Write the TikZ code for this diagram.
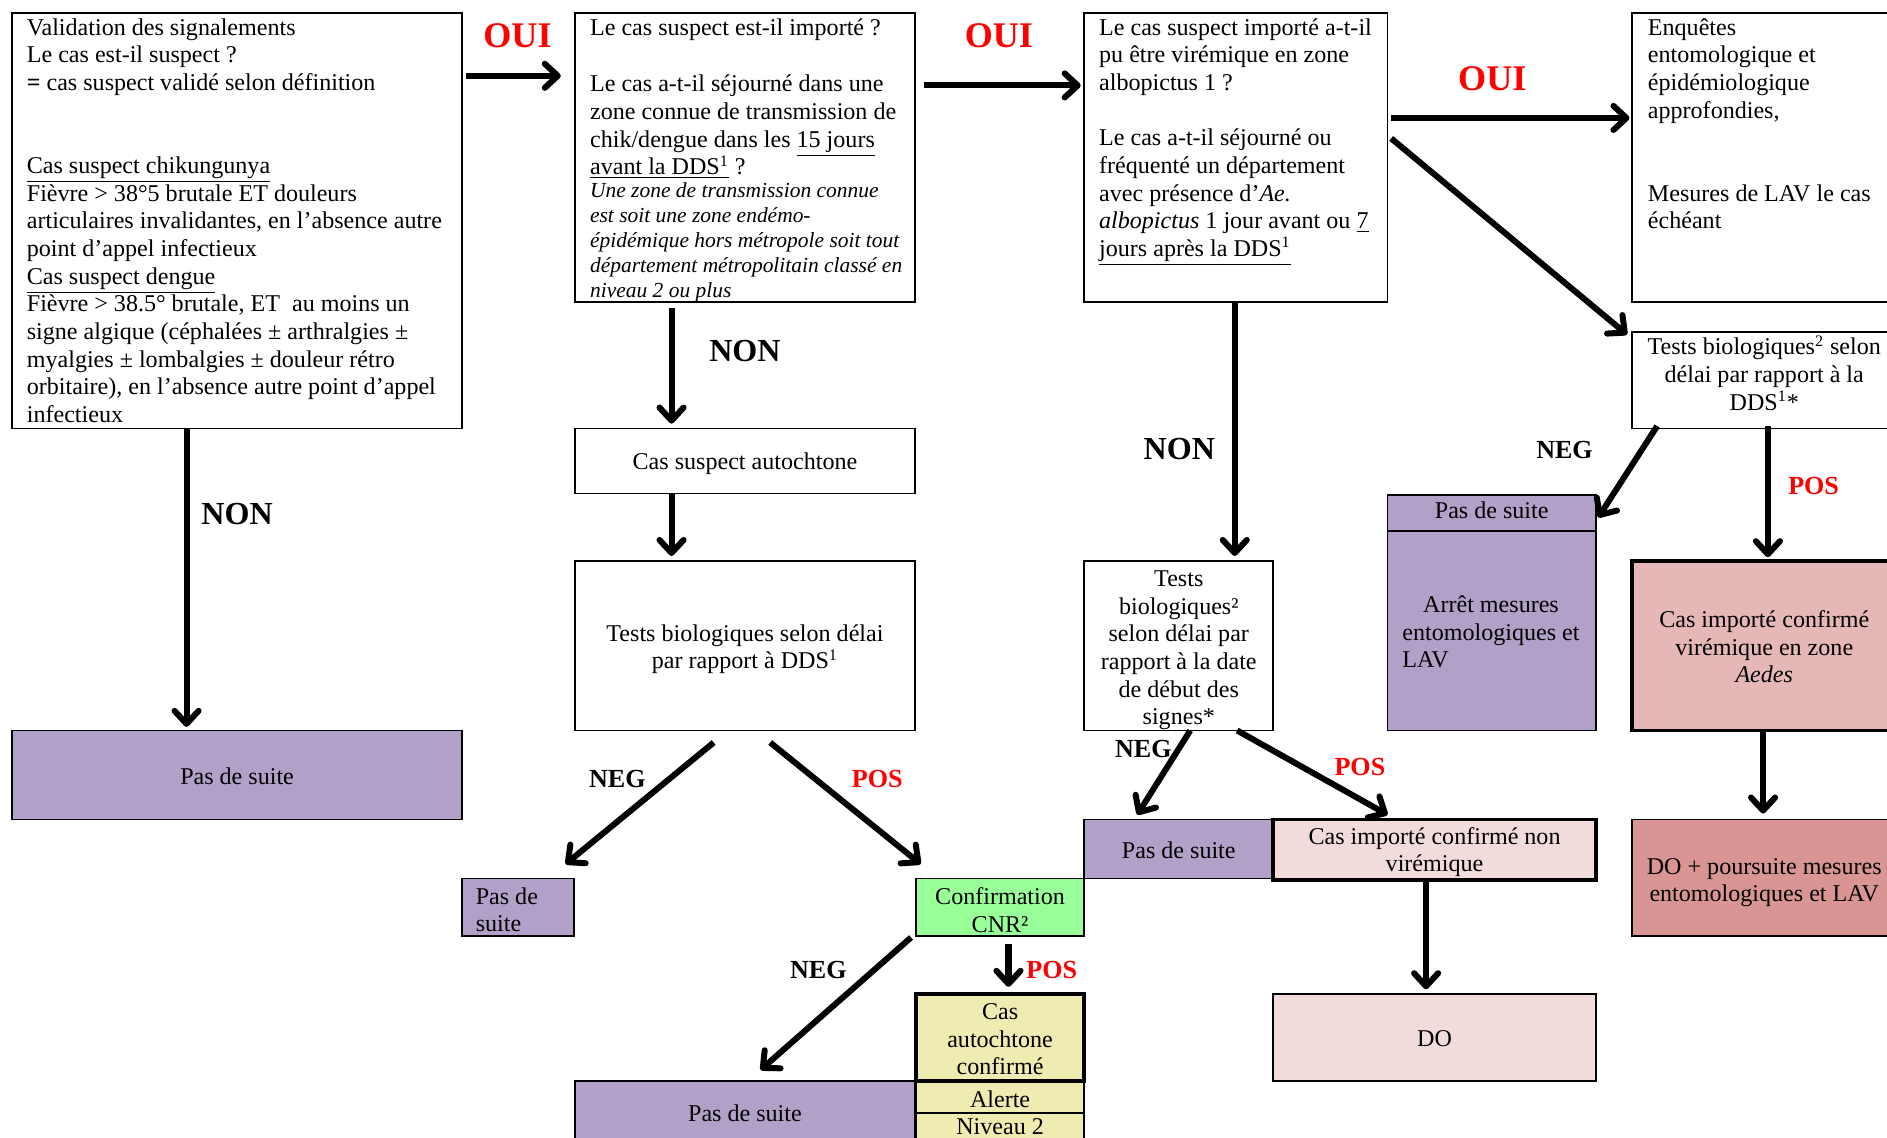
\documentclass[tikz,border=0pt]{standalone}
\usepackage{fontspec}
\setmainfont{Liberation Serif}
\usetikzlibrary{arrows.meta,calc}
\definecolor{purp}{RGB}{177,160,199}
\definecolor{grn}{RGB}{153,255,153}
\definecolor{yel}{RGB}{238,236,176}
\definecolor{pinkl}{RGB}{242,219,219}
\definecolor{pinkm}{RGB}{229,184,183}
\definecolor{pinkd}{RGB}{217,149,148}
\newcommand{\bodyf}{\fontsize{12}{13.8}\selectfont}
\newcommand{\uls}[1]{\smash{\underline{#1}}}
% #1 name, #2 x1, #3 y1, #4 x2, #5 y2, #6 style, #7 text, #8 vertical text offset
\newcommand{\mybox}[8]{\node[#6, anchor=north west, inner sep=0pt, outer sep=0pt, minimum width={(#4-#2)*0.6pt}, minimum height={(#5-#3)*0.6pt}] (#1) at (#2,#3) {};
  \node[boxtext] (#1-t) at ($(#1.center)+(0,#8)$) {#7};}
\begin{document}
\begin{tikzpicture}[x=0.6pt,y=-0.6pt,
  boxn/.style={draw=black, line width=0.9pt, fill=white},
  thickbox/.style={boxn, line width=1.9pt},
  boxtext/.style={align=center, inner sep=0pt, font=\bodyf},
  txt/.style={align=left, inner sep=0pt, font=\bodyf},
  notetxt/.style={align=left, inner sep=0pt, font=\fontsize{10.7}{12.5}\selectfont\itshape},
  arr/.style={line width=3pt, -{Straight Barb[length=6.5pt,width=12pt,round]}},
  ouilbl/.style={text=red, inner sep=0pt, font=\fontsize{18}{20}\selectfont\bfseries},
  nonlbl/.style={inner sep=0pt, font=\fontsize{16}{18}\selectfont\bfseries},
  neglbl/.style={inner sep=0pt, font=\fontsize{13}{15}\selectfont\bfseries},
  poslbl/.style={neglbl, text=red}]
\useasboundingbox (0,0) rectangle (1568,945);
\clip (0,0) rectangle (1568,945);
\fill[white] (0,0) rectangle (1568,945);

% boxes
\mybox{b1}{10}{11}{384}{356}{boxn}{}{0}
\mybox{b2}{478}{11}{760}{251}{boxn}{}{0}
\mybox{b3}{901}{11}{1153}{251}{boxn}{}{0}
\mybox{b4}{1356}{11}{1576}{251}{boxn}{}{0}
\mybox{b5}{1356}{276}{1576}{356}{boxn}{Tests biologiques\textsuperscript{2} selon\\délai par rapport à la\\DDS\textsuperscript{1}*}{-6}
\mybox{auto}{478}{356}{760}{410}{boxn}{Cas suspect autochtone}{2}
\mybox{testsA}{478}{466}{760}{607}{boxn}{Tests biologiques selon délai\\par rapport à DDS\textsuperscript{1}}{3}
\mybox{pas1}{10}{607}{384}{681}{boxn, fill=purp}{Pas de suite}{1}
\mybox{pas2}{384}{730}{477}{778}{boxn, fill=purp}{}{0}
\mybox{cnr}{761}{730}{901}{778}{boxn, fill=grn}{Confirmation\\CNR²}{2}
\mybox{pas3}{478}{898}{760}{952}{boxn, fill=purp}{Pas de suite}{0}
\mybox{autoconf}{761}{826}{901}{898}{thickbox, fill=yel}{Cas\\autochtone\\confirmé}{1.5}
\mybox{alerte}{761}{899}{901}{925}{boxn, fill=yel}{Alerte}{1}
\mybox{niveau}{761}{925}{901}{950}{boxn, fill=yel}{Niveau 2}{-1}
\mybox{testsB}{901}{466}{1058}{607}{boxn}{Tests\\biologiques²\\selon délai par\\rapport à la date\\de début des\\signes*}{4}
\mybox{pas4}{901}{681}{1058}{730}{boxn, fill=purp}{Pas de suite}{1}
\mybox{nonvir}{1058}{681}{1326}{731}{thickbox, fill=pinkl}{Cas importé confirmé non\\virémique}{2}
\mybox{DO}{1058}{826}{1326}{898}{boxn, fill=pinkl}{DO}{1}
\mybox{pas5}{1153}{411}{1326}{441}{boxn, fill=purp}{Pas de suite}{-2}
\mybox{arret}{1153}{441}{1326}{607}{boxn, fill=purp}{}{0}
\mybox{vir}{1356}{466}{1576}{607}{thickbox, fill=pinkm}{Cas importé confirmé\\virémique en zone\\\textit{Aedes}}{1}
\mybox{DOplus}{1356}{681}{1576}{778}{boxn, fill=pinkd}{DO + poursuite mesures\\entomologiques et LAV}{4}

% texts in boxes
\node[txt, anchor=north west] (t1) at (22,15) {Validation des signalements\\Le cas est-il suspect ?\\\textbf{=} cas suspect validé selon définition\\[27.6pt]\uls{Cas suspect chikungunya}\\Fièvre > 38°5 brutale ET douleurs\\articulaires invalidantes, en l’absence autre\\point d’appel infectieux\\\uls{Cas suspect dengue}\\Fièvre > 38.5° brutale, ET\ \ au moins un\\signe algique (céphalées ± arthralgies ±\\myalgies ± lombalgies ± douleur rétro\\orbitaire), en l’absence autre point d’appel\\infectieux};
\node[txt, anchor=north west] (t2) at (490,15) {Le cas suspect est-il importé ?\\[14.4pt]Le cas a-t-il séjourné dans une\\zone connue de transmission de\\chik/dengue dans les \uls{15 jours}\\\uls{avant la DDS\textsuperscript{1}} ?};
\node[notetxt, anchor=north west] (t2n) at (490,151) {Une zone de transmission connue\\est soit une zone endémo-\\épidémique hors métropole soit tout\\département métropolitain classé en\\niveau 2 ou plus};
\node[txt, anchor=north west] (t3) at (913,15) {Le cas suspect importé a-t-il\\pu être virémique en zone\\albopictus 1 ?\\[13.8pt]Le cas a-t-il séjourné ou\\fréquenté un département\\avec présence d’\textit{Ae.}\\\textit{albopictus} 1 jour avant ou \uls{7}\\\uls{jours après la DDS\textsuperscript{1}}};
\node[txt, anchor=north west] (t4) at (1369,15) {Enquêtes\\entomologique et\\épidémiologique\\approfondies,\\[27.6pt]Mesures de LAV le cas\\échéant};
\node[txt, anchor=north west] (tp2) at (395,737) {Pas de\\suite};
\node[txt, anchor=west] (tar) at (1165,525) {\setbox0\hbox{entomologiques et}\hbox to\wd0{\hss Arrêt mesures\hss}\\entomologiques et\\LAV};

% labels
\node[ouilbl] (oui1) at (430,30) {OUI};
\node[ouilbl] (oui2) at (830,30) {OUI};
\node[ouilbl] (oui3) at (1240,65) {OUI};
\node[nonlbl] (non1) at (619,292) {NON};
\node[nonlbl] (non2) at (197,427) {NON};
\node[nonlbl] (non3) at (980,373) {NON};
\node[neglbl] (neg1) at (513,647) {NEG};
\node[poslbl] (pos1) at (729,647) {POS};
\node[neglbl] (neg2) at (680,806) {NEG};
\node[poslbl] (pos2) at (874,806) {POS};
\node[neglbl] (neg3) at (950,622) {NEG};
\node[poslbl] (pos3) at (1130,637) {POS};
\node[neglbl] (neg4) at (1300,374) {NEG};
\node[poslbl] (pos4) at (1507,404) {POS};

% arrows
\draw[arr] ($(b1.north east)+(3,52)$) -- ($(b2.north west)+(-12,52)$);
\draw[arr] ($(b2.north east)+(8,60)$) -- ($(b3.north west)+(-3,60)$);
\draw[arr] ($(b3.north east)+(3,87)$) -- ($(b4.north west)+(-2,87)$);
\draw[arr] ($(b3.north east)+(3,104)$) -- ($(b5.north west)+(-4,2)$);
\draw[arr] ($(b2.south west)+(80,5)$) -- ($(auto.north west)+(80,-4)$);
\draw[arr] ($(auto.south west)+(80,0)$) -- ($(testsA.north west)+(80,-4)$);
\draw[arr] ($(b1.south west)+(145,0)$) -- ($(pas1.north west)+(145,-3)$);
\draw[arr] ($(testsA.south west)+(115,10)$) -- ($(pas2.north east)+(-7,-12)$);
\draw[arr] ($(testsA.south west)+(162,10)$) -- ($(cnr.north west)+(4,-12)$);
\draw[arr] ($(cnr.south west)+(-4,1)$) -- ($(pas3.north west)+(154,-9)$);
\draw[arr] ($(cnr.south west)+(77,6)$) -- ($(autoconf.north west)+(77,-6)$);
\draw[arr] ($(b3.south west)+(125,0)$) -- ($(testsB.north west)+(125,-4)$);
\draw[arr] ($(testsB.south west)+(88,0)$) -- ($(pas4.north west)+(44,-4)$);
\draw[arr] ($(testsB.south west)+(127,0)$) -- ($(nonvir.north west)+(95,-4)$);
\draw[arr] ($(nonvir.south west)+(127,0)$) -- ($(DO.north west)+(127,-4)$);
\draw[arr] ($(b5.south west)+(21,-2)$) -- ($(pas5.north east)+(2,19)$);
\draw[arr] ($(b5.south west)+(113,-2)$) -- ($(vir.north west)+(113,-3)$);
\draw[arr] ($(vir.south west)+(109,0)$) -- ($(DOplus.north west)+(109,-5)$);
\end{tikzpicture}
\end{document}
